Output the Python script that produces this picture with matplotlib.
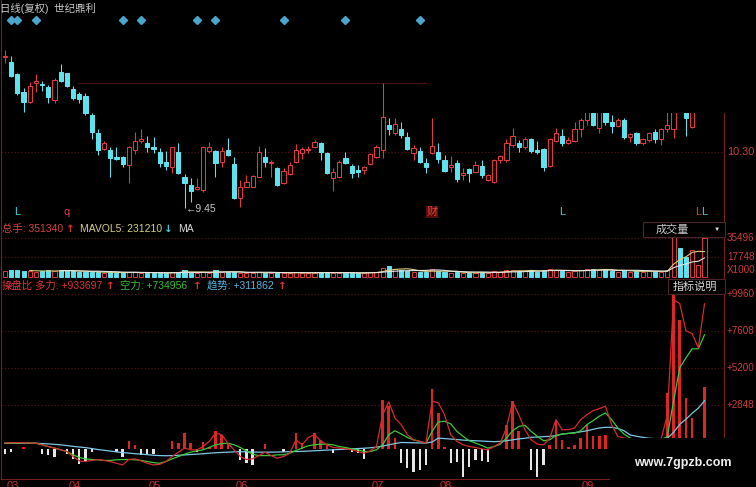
import numpy as np
import pandas as pd
import matplotlib
matplotlib.use('Agg')
import matplotlib.pyplot as plt
from matplotlib.patches import Rectangle
import matplotlib.transforms as mtransforms

plt.rcParams['font.family'] = ['Liberation Sans', 'Noto Sans CJK SC', 'DejaVu Sans']

# ---------------- data ----------------
opens = [11.74, 11.67, 11.48, 11.21, 11.06, 11.35, 11.33, 11.29, 11.09, 11.51,
         11.50, 11.26, 11.18, 11.15, 10.86, 10.59, 10.35, 10.33, 10.22, 10.22,
         10.10, 10.33, 10.47, 10.44, 10.38, 10.30, 10.15, 10.07, 10.30, 9.92,
         9.80, 9.74, 9.72, 10.32, 10.32, 10.15, 10.33, 10.12, 9.60, 9.77,
         9.77, 9.92, 10.22, 10.13, 10.06, 9.83, 9.97, 10.15, 10.28, 10.33,
         10.38, 10.44, 10.28, 9.91, 9.92, 10.21, 10.09, 10.03, 10.03, 10.12,
         10.22, 10.33, 10.71, 10.59, 10.65, 10.53, 10.28, 10.32, 10.13, 10.28,
         10.30, 10.18, 10.07, 10.13, 9.95, 10.04, 10.00, 10.09, 9.88, 9.84,
         10.18, 10.18, 10.41, 10.44, 10.38, 10.50, 10.33, 10.35, 10.09, 10.47,
         10.54, 10.44, 10.47, 10.65, 10.79, 10.95, 10.66, 10.95, 10.76, 10.69,
         10.79, 10.53, 10.59, 10.44, 10.48, 10.60, 10.50, 10.65, 10.65, 11.10,
         10.98, 10.68, 10.93, 11.00]
highs = [11.85, 11.76, 11.50, 11.27, 11.36, 11.48, 11.38, 11.32, 11.42, 11.64,
         11.50, 11.30, 11.21, 11.20, 10.89, 10.65, 10.47, 10.38, 10.38, 10.24,
         10.39, 10.60, 10.65, 10.54, 10.53, 10.36, 10.32, 10.38, 10.44, 9.97,
         9.91, 9.91, 10.39, 10.45, 10.33, 10.38, 10.51, 10.22, 9.88, 9.95,
         9.95, 10.39, 10.36, 10.18, 10.07, 10.06, 10.15, 10.42, 10.38, 10.39,
         10.48, 10.45, 10.30, 10.06, 10.18, 10.30, 10.12, 10.10, 10.09, 10.28,
         10.41, 11.35, 10.82, 10.82, 10.76, 10.60, 10.41, 10.38, 10.21, 10.82,
         10.44, 10.25, 10.24, 10.18, 10.06, 10.06, 10.16, 10.18, 9.97, 10.19,
         10.25, 10.50, 10.66, 10.48, 10.53, 10.51, 10.47, 10.36, 10.51, 10.66,
         10.65, 10.53, 10.76, 10.82, 10.95, 10.97, 10.98, 10.99, 10.86, 10.82,
         10.82, 10.59, 10.60, 10.51, 10.60, 10.65, 10.66, 10.93, 11.02, 11.15,
         11.05, 11.02, 11.10, 11.20]
lows = [11.65, 11.44, 11.17, 10.91, 11.04, 11.21, 11.23, 11.04, 11.04, 11.36,
        11.29, 11.09, 11.04, 10.86, 10.50, 10.25, 10.33, 9.92, 10.18, 10.07,
        9.83, 10.27, 10.44, 10.30, 10.28, 10.07, 10.03, 9.98, 9.97, 9.45,
        9.54, 9.72, 9.69, 10.28, 9.92, 10.07, 10.24, 9.59, 9.47, 9.77,
        9.77, 9.92, 10.07, 9.92, 9.79, 9.81, 9.95, 10.13, 10.19, 10.28,
        10.36, 10.18, 9.97, 9.71, 9.91, 10.12, 9.91, 9.92, 9.97, 10.10,
        10.21, 10.21, 10.56, 10.56, 10.51, 10.33, 10.18, 10.13, 9.98, 10.27,
        10.13, 10.00, 10.00, 9.84, 9.88, 9.84, 9.98, 9.91, 9.86, 9.83,
        10.13, 10.15, 10.38, 10.30, 10.35, 10.28, 10.27, 10.01, 10.07, 10.45,
        10.39, 10.42, 10.45, 10.53, 10.71, 10.69, 10.59, 10.71, 10.59, 10.68,
        10.50, 10.45, 10.41, 10.41, 10.45, 10.44, 10.41, 10.60, 10.51, 10.91,
        10.54, 10.66, 10.91, 10.96]
closes = [11.76, 11.45, 11.20, 11.06, 11.30, 11.38, 11.32, 11.13, 11.39, 11.38,
          11.30, 11.12, 11.10, 10.89, 10.60, 10.33, 10.44, 10.21, 10.19, 10.12,
          10.38, 10.47, 10.50, 10.38, 10.35, 10.13, 10.09, 10.38, 9.98, 9.83,
          9.71, 9.77, 10.38, 10.38, 10.13, 10.32, 10.25, 9.60, 9.77, 9.84,
          9.94, 10.30, 10.15, 10.15, 9.80, 10.01, 10.10, 10.33, 10.35, 10.35,
          10.45, 10.30, 9.98, 10.00, 10.15, 10.13, 9.98, 10.00, 10.07, 10.27,
          10.38, 10.83, 10.65, 10.72, 10.56, 10.35, 10.36, 10.15, 10.07, 10.39,
          10.19, 10.01, 10.10, 9.89, 9.98, 9.98, 10.10, 9.95, 9.95, 10.18,
          10.24, 10.44, 10.54, 10.38, 10.50, 10.32, 10.30, 10.07, 10.50, 10.59,
          10.44, 10.48, 10.65, 10.79, 10.90, 10.71, 10.93, 10.76, 10.69, 10.79,
          10.53, 10.57, 10.44, 10.50, 10.59, 10.50, 10.65, 10.71, 10.97, 10.95,
          10.82, 10.97, 11.05, 11.15]
volumes = [5500, 6400, 6300, 5600, 5400, 4600, 5500, 6300, 5500, 6400,
           5500, 5400, 4600, 4500, 4600, 4500, 3700, 4600, 3600, 3700,
           4600, 4500, 3700, 3600, 3700, 3600, 3700, 4500, 4600, 6400,
           3700, 3600, 4500, 3700, 6300, 4600, 4500, 4600, 3600, 3700,
           3600, 4600, 3700, 3600, 4500, 3600, 3700, 4600, 3600, 3700,
           3600, 4500, 4600, 3700, 3600, 3700, 3600, 3700, 3600, 4600,
           4500, 8200, 10000, 7300, 6400, 5500, 4600, 4500, 4600, 7300,
           5500, 4600, 3600, 4500, 3700, 3600, 3700, 4600, 3600, 5500,
           4500, 6400, 6300, 5500, 5400, 6400, 4600, 6300, 7300, 6400,
           5500, 4500, 5400, 6400, 7300, 7200, 6300, 7300, 5500, 4600,
           6400, 4500, 5500, 4600, 5400, 5500, 4500, 6300, 36400, 26400,
           18200, 24600, 11270, 35134]
power_bars = [-300, -170, 0, 130, 0, 0, -300, -340, -450, 0,
              -300, -600, -950, -730, -170, 0, 0, 0, -170, -450,
              520, 260, -340, -300, -300, 0, 0, 520, 410, 1050,
              410, -170, 470, 190, 1160, 950, 410, 0, -670, -880,
              -990, 0, 370, 0, 0, -170, 0, 1050, 410, 0,
              1050, 620, 300, -240, 0, 0, -130, -240, -600, 0,
              0, 3200, 2770, 730, -880, -1200, -1420, -1310, -990, 3850,
              2340, 190, -880, -770, -1740, -1100, -670, -730, -770, 0,
              0, 1590, 3100, 1160, 0, -1310, -1740, -990, 300, 1910,
              620, 190, 300, 730, 1590, 840, 840, 950, 300, 200,
              200, 200, 100, 100, 100, 100, 200, 3600, 10600, 8300,
              3300, 2000, 0, 4000]
duoli = [420, 430, 440, 430, 420, 400, 300, 190, 90, -20,
         -130, -450, -730, -770, -700, -640, -700, -770, -880, -990,
         -640, -600, -730, -880, -990, -950, -770, -450, -170, 90,
         -20, -20, 190, 520, 1050, 950, 410, -20, -450, -640,
         -600, -390, -170, -390, -560, -450, -240, 620, 300, 770,
         950, 560, 300, 130, 90, 40, -20, -130, -240, -90,
         190, 2230, 3050, 2020, 1590, 950, 620, 520, 410, 3100,
         2990, 2230, 950, 520, 300, 190, 130, 40, -20, 190,
         410, 1380, 3050, 2230, 1270, 620, 340, 300, 730, 1910,
         1270, 1270, 1380, 1910, 2230, 2490, 2620, 2770, 1590, 840,
         730, 690, 600, 500, 450, 500, 700, 2200, 9600, 9350,
         7610, 7420, 6520, 9337]
kongli = [400, 410, 420, 420, 410, 400, 300, 190, 90, -20,
          -130, -340, -510, -600, -640, -660, -700, -700, -660, -640,
          -640, -660, -700, -770, -840, -880, -770, -600, -450, -300,
          -170, -90, -20, 130, 300, 370, 410, 300, 130, -90,
          -300, -390, -390, -390, -340, -340, -240, -60, 90, 240,
          300, 340, 340, 300, 190, 130, 40, -20, -130, -130,
          -20, 300, 950, 1200, 1000, 770, 620, 520, 410, 1160,
          1770, 1810, 1640, 1160, 840, 560, 410, 260, 90, 190,
          340, 730, 1200, 1480, 1550, 1160, 840, 560, 620, 900,
          990, 1030, 1050, 1200, 1590, 1850, 2130, 2340, 1910, 1380,
          990, 730, 600, 500, 450, 450, 600, 840, 3100, 5230,
          5870, 6450, 6450, 7350]
qushi = [400, 400, 400, 400, 400, 400, 380, 360, 330, 300,
         250, 200, 160, 120, 60, 0, -50, -100, -150, -200,
         -230, -270, -300, -330, -370, -390, -400, -390, -370, -350,
         -320, -300, -270, -240, -210, -190, -170, -150, -140, -150,
         -160, -170, -170, -170, -160, -150, -140, -130, -120, -100,
         -80, -60, -40, -20, 0, 20, 40, 60, 80, 110,
         150, 220, 300, 380, 450, 440, 430, 420, 410, 480,
         730, 700, 670, 640, 600, 580, 560, 540, 520, 500,
         520, 560, 620, 680, 720, 780, 800, 820, 850, 880,
         990, 1030, 1080, 1130, 1200, 1290, 1380, 1420, 1420, 1350,
         1200, 930, 850, 780, 720, 700, 700, 710, 1100, 1610,
         1940, 2320, 2650, 3119]

month_labels = ['03', '04', '05', '06', '07', '08', '09']
month_pos = [0, 10, 23, 37, 59, 70, 93]
signal_idx = [1, 2, 5, 19, 22, 31, 34, 45, 55, 67]          # diamonds on top
mark_idx = [2, 10, 69, 90, 112, 113]
mark_txt = ['L', 'q', '财', 'L', 'L', 'L']
mark_up = [False, True, True, False, True, False]
price_ticks = [10.30]
vol_ticks = [35496, 17748]
ind_ticks = [9960, 7608, 5200, 2848]
low_idx = 29
low_label = '9.45'

# ---------------- style ----------------
W, H = 756, 487
BG = 'black'
RED = '#e03a3a'
CYAN = '#5ee2ee'
FRAME = '#7a1c1c'
GRID = '#5a1616'
AXLBL = '#cc3c3c'
ARROWFONT = ['DejaVu Sans']
n = len(opens)
idx = np.arange(n)
o, h, l, c = map(np.array, (opens, highs, lows, closes))
up = c >= o

fig = plt.figure(figsize=(W / 100, H / 100), dpi=100, facecolor=BG)
X_LO, X_HI = -0.646, 116.15


def add_ax(top, bottom, ylo, yhi):
    ax = fig.add_axes([1 / W, 1 - bottom / H, 723 / W, (bottom - top) / H], facecolor=BG)
    ax.set_xticks([])
    ax.set_yticks([])
    for s in ax.spines.values():
        s.set_color(FRAME)
        s.set_linewidth(0.8)
    ax.spines['top'].set_visible(False)
    ax.set_xlim(X_LO, X_HI)
    ax.set_ylim(ylo, yhi)
    return ax


def right_labels(ax, vals, labels, fs=7.1):
    tr = mtransforms.blended_transform_factory(ax.transAxes, ax.transData)
    for v, s in zip(vals, labels):
        ax.text(1.004, v, s, transform=tr, ha='left', va='center', color=AXLBL,
                fontsize=fs, clip_on=False)


def ftext(x, y, s, color, fs=7.5, **kw):
    fig.text(x / W, 1 - y / H, s, color=color, fontsize=fs, va='center', ha='left', **kw)


def farrow(x, y, s, color):
    fig.text(x / W, 1 - y / H, s, color=color, fontsize=7.5, va='center', ha='left',
             family=ARROWFONT, fontweight='bold')


# ---------------- price panel ----------------
axp = add_ax(0, 222, 9.238, 12.607)
for v in price_ticks:
    axp.axhline(v, color=GRID, lw=0.8, ls=(0, (1, 2)), zorder=0)
axp.axhline(11.35, xmin=0.106, xmax=0.59, color='#4a1414', lw=0.8, zorder=0)
bw = 0.68
for i in idx:
    col = RED if up[i] else CYAN
    axp.vlines(i, l[i], h[i], color=col, lw=0.75, zorder=2)
    bot = min(o[i], c[i])
    hgt = max(abs(c[i] - o[i]), 0.006)
    axp.add_patch(Rectangle((i - bw / 2, bot), bw, hgt, facecolor=BG if up[i] else col,
                            edgecolor=col, lw=0.75, zorder=3))
# black overlay area hiding the top-right part of the chart
axp.add_patch(Rectangle((68.2, 10.89), 49.6, 1.8, facecolor=BG, edgecolor='none',
                        zorder=10, clip_on=False))
right_labels(axp, price_ticks, ['%.2f' % v for v in price_ticks], fs=7.8)
axp.text(low_idx + 0.3, lows[low_idx] - 0.02, '←' + low_label, color='#c8c8c8',
         fontsize=7.5, ha='left', va='center')
trx = mtransforms.blended_transform_factory(axp.transData, axp.transAxes)
axp.plot(signal_idx, [0.91] * len(signal_idx), 'D', color='#4aa6cc', ms=3.6,
         transform=trx, clip_on=False, zorder=11)
for i, s, u in zip(mark_idx, mark_txt, mark_up):
    kw = {}
    if s == '财':
        kw['bbox'] = dict(facecolor='#5a0c0c', edgecolor='none', pad=0.6)
    axp.text(i, 0.045, s, transform=trx, color=RED if u else '#40d0e0', fontsize=8,
             ha='center', va='center', zorder=12, **kw)
ftext(0, 8, '日线(复权)  世纪鼎利', '#c8c8c8', fs=7.5)

# ---------------- volume panel ----------------
axv = add_ax(222, 279, -1820, 50050)
for v in vol_ticks:
    axv.axhline(v, color=GRID, lw=0.8, ls=(0, (1, 2)), zorder=0)
vols = np.array(volumes)
axv.bar(idx, vols, width=0.66, color=np.where(up, BG, CYAN),
        edgecolor=np.where(up, RED, CYAN), lw=0.7, zorder=2)
ma5 = pd.Series(vols).rolling(5).mean()
ma10 = pd.Series(vols).rolling(10).mean()
axv.plot(idx, ma5, color='#d8d27a', lw=0.8, zorder=3)
axv.plot(idx, ma10, color='#e4e4e4', lw=0.8, zorder=3)
right_labels(axv, vol_ticks + [6370], [str(v) for v in vol_ticks] + ['X1000'])
ftext(2, 229, '总手: 351340', '#d84040')
farrow(66, 229, '↑', '#e03030')
ftext(80, 229, 'MAVOL5: 231210', '#d6d080')
farrow(164, 229, '↓', '#40d0e0')
ftext(178, 229, 'MA', '#d8d8d8')
fig.add_artist(Rectangle((643 / W, 1 - 237 / H), 82 / W, 15 / H, transform=fig.transFigure,
                         facecolor=BG, edgecolor='#4a2626', lw=0.8, zorder=5))
fig.text(672 / W, 1 - 229.5 / H, '成交量', color='#c8c8c8', fontsize=8, ha='center',
         va='center', zorder=6)
fig.text(717 / W, 1 - 229 / H, '▼', color='#e0e0e0', fontsize=4.5, ha='center',
         va='center', zorder=6)

# ---------------- indicator panel ----------------
axi = add_ax(279, 479, -1890, 10923)
for v in ind_ticks:
    axi.axhline(v, color=GRID, lw=0.8, ls=(0, (1, 2)), zorder=0)
pb = np.array(power_bars)
pos = pb > 0
neg = pb < 0
axi.bar(idx[pos], pb[pos], width=0.42, color='#e02424', zorder=2)
axi.bar(idx[neg], pb[neg], width=0.36, color='#e6e6e6', zorder=2)
axi.plot(idx, qushi, color='#7cc8e6', lw=0.9, zorder=3)
axi.plot(idx, kongli, color='#3cc83c', lw=0.9, zorder=4)
axi.plot(idx, duoli, color='#d42c2c', lw=0.9, zorder=5)
right_labels(axi, ind_ticks, ['+%d' % v for v in ind_ticks])
trm = mtransforms.blended_transform_factory(axi.transData, axi.transAxes)
for p, s in zip(month_pos, month_labels):
    axi.text(max(p + 0.2, X_LO + 0.1), -0.012, s, transform=trm, color='#cc3030',
             fontsize=8, ha='left', va='top', clip_on=False)
ftext(2, 286, '操盘比', '#e03434')
ftext(35, 286, '多力: +933697', '#e03434')
farrow(106, 286, '↑', '#e03030')
ftext(120, 286, '空力: +734956', '#38c038')
farrow(193, 286, '↑', '#e03030')
ftext(207, 286, '趋势: +311862', '#58b4e0')
farrow(278, 286, '↑', '#e03030')
fig.add_artist(Rectangle((668 / W, 1 - 294 / H), 57 / W, 15 / H, transform=fig.transFigure,
                         facecolor=BG, edgecolor='#4a2626', lw=0.8, zorder=5))
fig.text(695 / W, 1 - 287 / H, '指标说明', color='#d8d8d8', fontsize=8, ha='center',
         va='center', zorder=6)

# watermark box
fig.add_artist(Rectangle((610 / W, 0), 146 / W, (487 - 438) / H, transform=fig.transFigure,
                         facecolor=BG, edgecolor='none', zorder=8))
fig.text(683 / W, 1 - 463 / H, 'www.7gpzb.com', color='#f0f0f0', fontsize=9,
         fontweight='bold', ha='center', va='center', zorder=9)

fig.savefig('out.png', dpi=100, facecolor=BG)
